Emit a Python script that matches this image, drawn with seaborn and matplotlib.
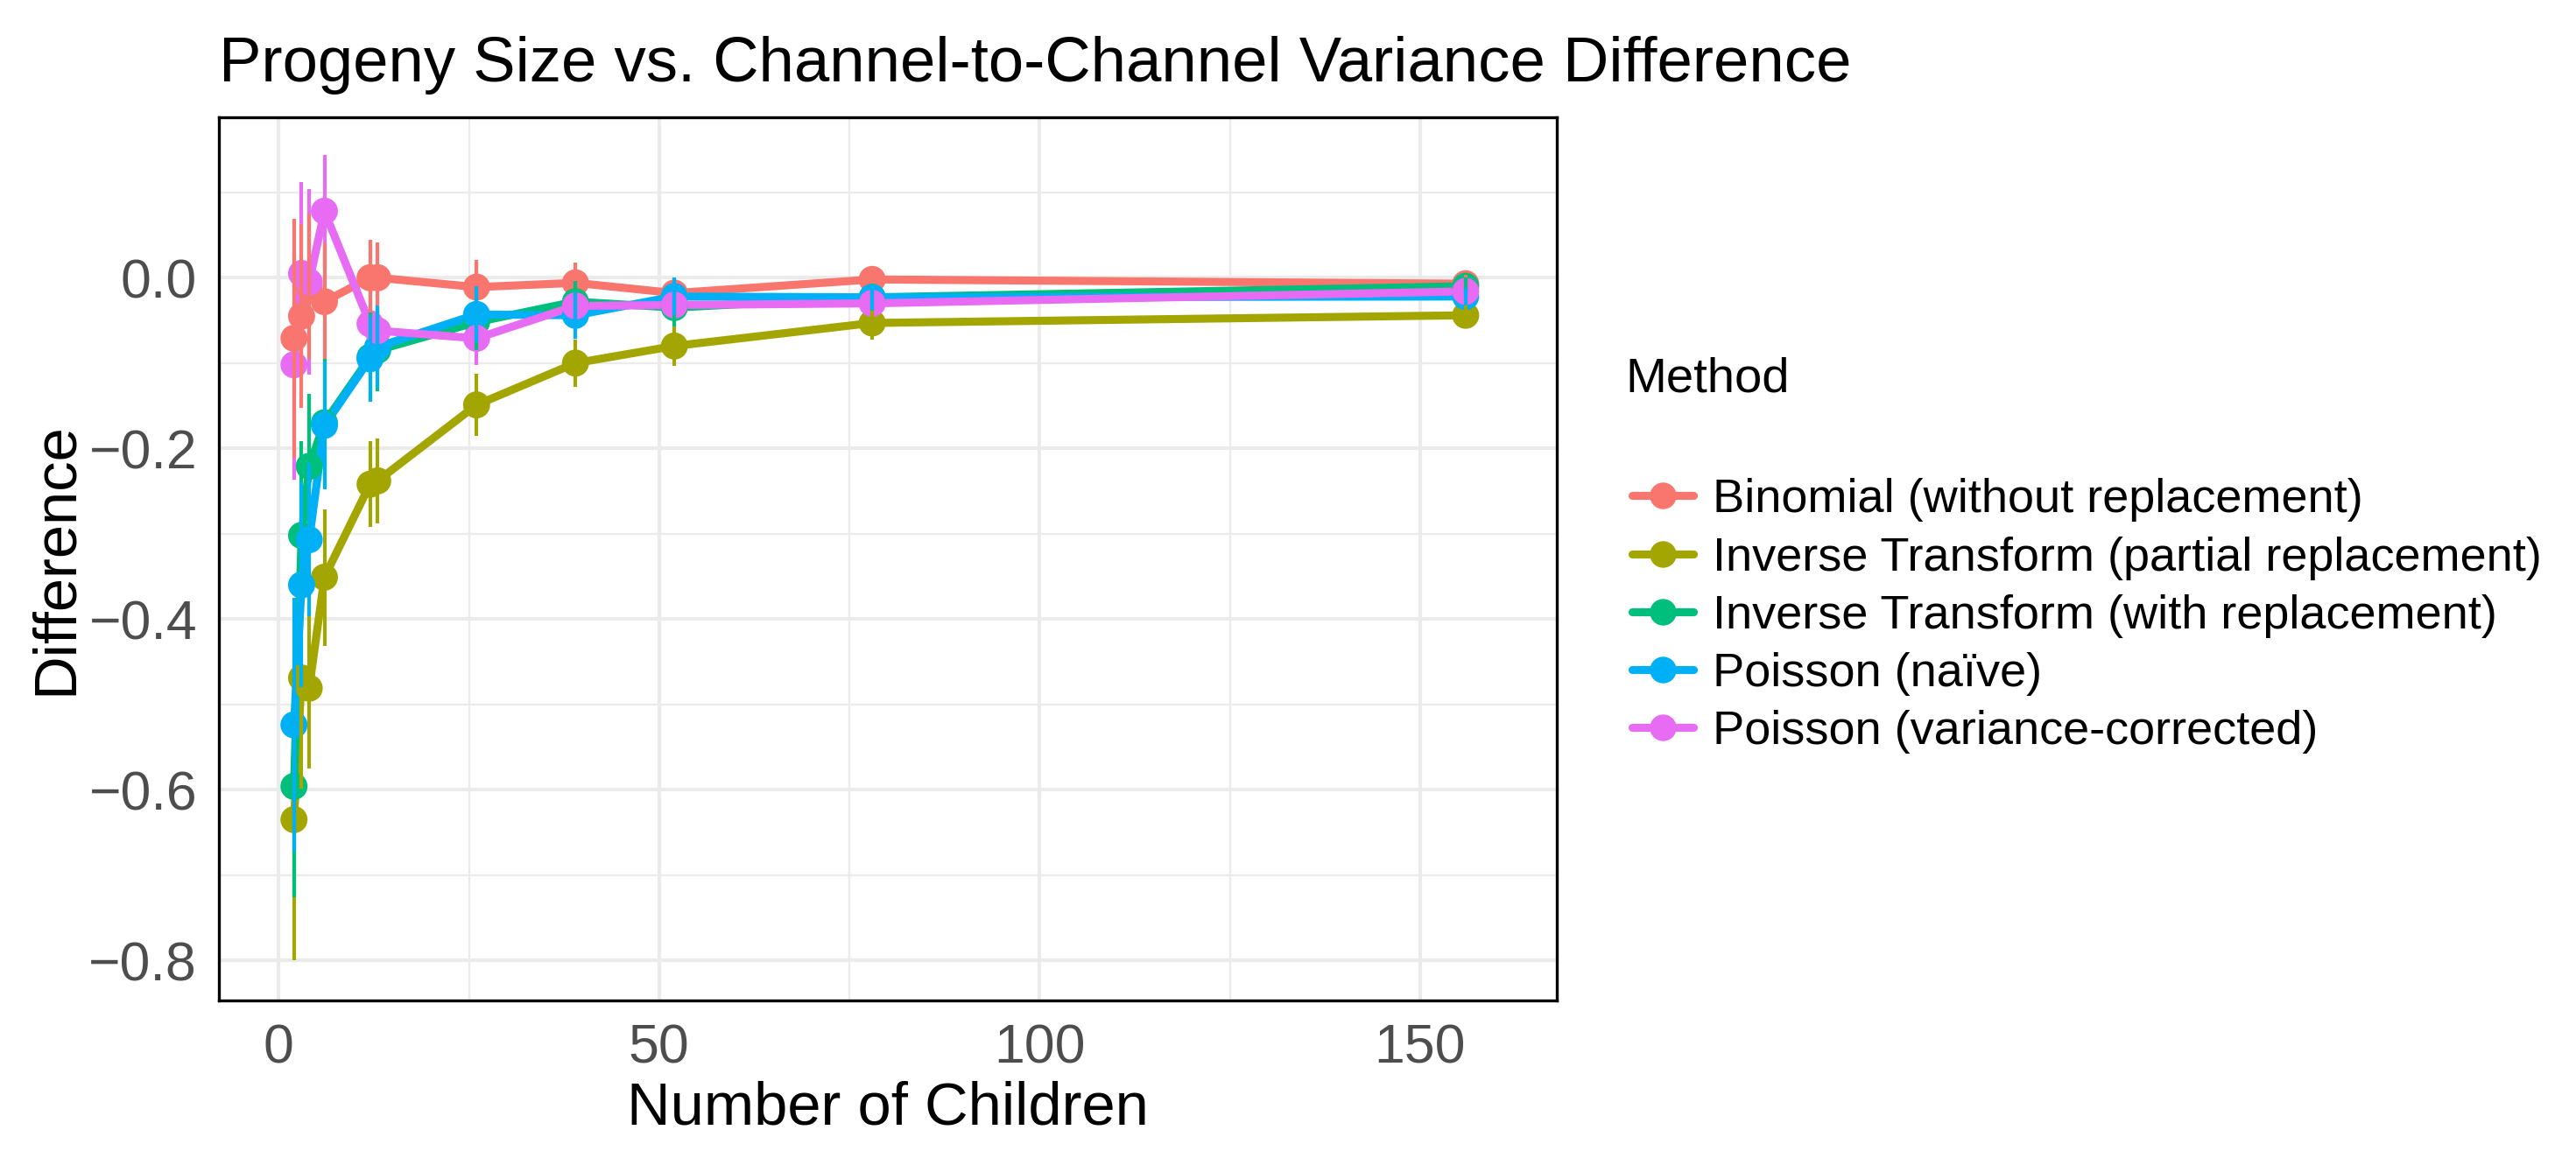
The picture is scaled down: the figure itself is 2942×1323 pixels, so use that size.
import numpy as np
import pandas as pd
import matplotlib
matplotlib.use("Agg")
import matplotlib.pyplot as plt
from matplotlib.lines import Line2D
from matplotlib.ticker import AutoMinorLocator
import seaborn as sns

# 数据：从图上读出来的均值和误差（半宽）
n_children = [2, 3, 4, 6, 12, 13, 26, 39, 52, 78, 156]

methods = ["Binomial (without replacement)",
           "Inverse Transform (partial replacement)",
           "Inverse Transform (with replacement)",
           "Poisson (naïve)",
           "Poisson (variance-corrected)"]

binomial = [-0.071, -0.045, -0.010, -0.028, 0.000, 0.000, -0.011, -0.006, -0.018, -0.002, -0.007]
binomial_err = [0.140, 0.108, 0.085, 0.068, 0.044, 0.041, 0.032, 0.024, 0.018, 0.014, 0.010]

inv_partial = [-0.635, -0.469, -0.481, -0.351, -0.242, -0.238, -0.149, -0.100, -0.080, -0.053, -0.044]
inv_partial_err = [0.165, 0.130, 0.094, 0.080, 0.050, 0.050, 0.036, 0.028, 0.023, 0.020, 0.015]

inv_with = [-0.596, -0.302, -0.221, -0.170, -0.093, -0.085, -0.052, -0.028, -0.035, -0.023, -0.010]
inv_with_err = [0.130, 0.110, 0.085, 0.075, 0.052, 0.048, 0.033, 0.024, 0.022, 0.016, 0.010]

poisson_naive = [-0.524, -0.360, -0.307, -0.173, -0.095, -0.081, -0.043, -0.044, -0.022, -0.023, -0.022]
poisson_naive_err = [0.149, 0.120, 0.090, 0.075, 0.050, 0.048, 0.033, 0.027, 0.022, 0.015, 0.010]

poisson_corr = [-0.102, 0.005, -0.005, 0.078, -0.054, -0.062, -0.071, -0.033, -0.032, -0.030, -0.016]
poisson_corr_err = [0.135, 0.107, 0.109, 0.066, 0.050, 0.050, 0.031, 0.024, 0.020, 0.010, 0.008]

y_ticks = [-0.8, -0.6, -0.4, -0.2, 0.0]
y_tick_labels = ["\u22120.8", "\u22120.6", "\u22120.4", "\u22120.2", "0.0"]
x_ticks = [0, 50, 100, 150]

colors = ["#F8766D", "#A3A500", "#00BF7D", "#00B0F6", "#E76BF3"]

values = [binomial, inv_partial, inv_with, poisson_naive, poisson_corr]
errors = [binomial_err, inv_partial_err, inv_with_err, poisson_naive_err, poisson_corr_err]

rows = []
for m, v, e in zip(methods, values, errors):
    for x, y, err in zip(n_children, v, e):
        rows.append({"Number of Children": x, "Difference": y, "err": err, "Method": m})
df = pd.DataFrame(rows)
palette = dict(zip(methods, colors))

sns.set_style("white")
plt.rcParams["font.family"] = ["Liberation Sans", "DejaVu Sans"]
plt.rcParams["text.color"] = "black"

fig = plt.figure(figsize=(2942 / 300, 1323 / 300), dpi=300)
ax = fig.add_axes([0.085, 0.136, 0.6044 - 0.085, 0.8987 - 0.136])

# lines first, then points, then error bars (like the ggplot layer order)
sns.lineplot(data=df, x="Number of Children", y="Difference", hue="Method",
             palette=palette, linewidth=2.2, legend=False, ax=ax, zorder=3)
sns.scatterplot(data=df, x="Number of Children", y="Difference", hue="Method",
                palette=palette, s=55, linewidth=0, legend=False, ax=ax, zorder=4)

# pink bars sit under the others in the reference
bar_order = [4, 0, 1, 2, 3]
for i in bar_order:
    sub = df[df["Method"] == methods[i]]
    ax.vlines(sub["Number of Children"], sub["Difference"] - sub["err"],
              sub["Difference"] + sub["err"], color=colors[i], linewidth=1.0, zorder=5)

ax.set_xlim(-7.86, 168)
ax.set_ylim(-0.847, 0.188)
ax.set_xticks(x_ticks)
ax.set_yticks(y_ticks, y_tick_labels)
ax.xaxis.set_minor_locator(AutoMinorLocator(2))
ax.yaxis.set_minor_locator(AutoMinorLocator(2))
ax.grid(which="major", color="#EBEBEB", linewidth=1.0, zorder=0)
ax.grid(which="minor", color="#EBEBEB", linewidth=0.55, zorder=0)
ax.set_axisbelow(True)
for s in ax.spines.values():
    s.set_color("black")
    s.set_linewidth(0.8)
ax.tick_params(which="both", length=0, labelsize=15, labelcolor="#4D4D4D", pad=6)

ax.set_xlabel("Number of Children", fontsize=16.5, color="black", labelpad=1.8)
ax.set_ylabel("Difference", fontsize=16.5, color="black", labelpad=1.2)
ax.set_title("Progeny Size vs. Channel-to-Channel Variance Difference",
             fontsize=17.4, loc="left", pad=9.8, color="black")

handles = [Line2D([0], [0], color=c, linewidth=2.2, marker="o", markersize=7.3,
                  markeredgewidth=0) for c in colors]
leg = fig.legend(handles, methods, loc="center left",
                 bbox_to_anchor=(0.617, 0.468), frameon=False, fontsize=13,
                 handlelength=1.3, handletextpad=0.4, labelspacing=0.30)
fig.text(0.631, 1 - 434 / 1323, "Method", fontsize=13.5, ha="left", va="center")

fig.savefig("out.png", dpi=300)
